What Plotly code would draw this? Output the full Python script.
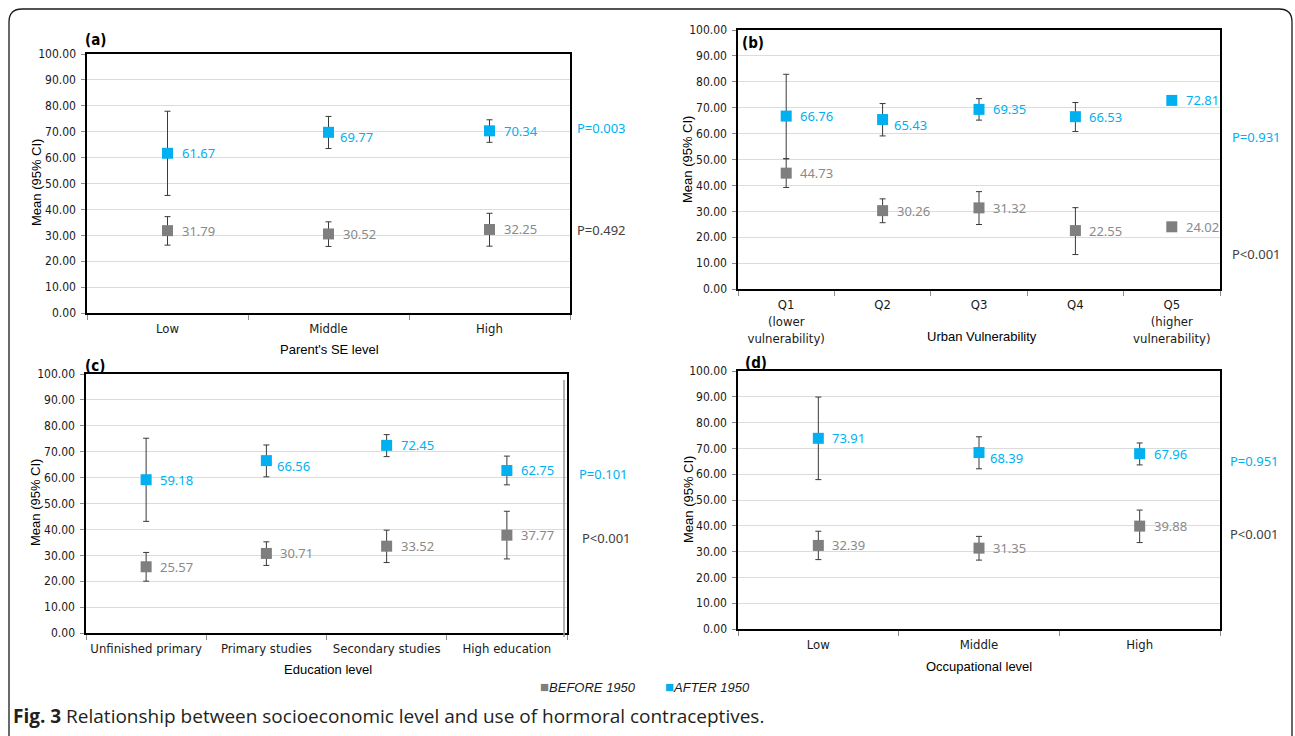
import plotly.graph_objects as go

W, H = 1295, 736

# ---------------- data ----------------
cats_a = ["Low", "Middle", "High"]
before_a = [31.79, 30.52, 32.25]
before_a_lo = [26.2, 25.7, 25.8]
before_a_hi = [37.2, 35.2, 38.5]
after_a = [61.67, 69.77, 70.34]
after_a_lo = [45.4, 63.5, 65.9]
after_a_hi = [77.9, 75.9, 74.6]

cats_b = ["Q1<br>(lower<br>vulnerability)", "Q2", "Q3", "Q4", "Q5<br>(higher<br>vulnerability)"]
before_b = [44.73, 30.26, 31.32, 22.55, 24.02]
before_b_lo = [39.2, 25.6, 24.9, 13.3, None]
before_b_hi = [50.3, 34.8, 37.6, 31.4, None]
after_b = [66.76, 65.43, 69.35, 66.53, 72.81]
after_b_lo = [50.3, 59.1, 65.2, 60.8, None]
after_b_hi = [82.9, 71.6, 73.5, 72.0, None]

cats_c = ["Unfinished primary", "Primary studies", "Secondary studies", "High education"]
before_c = [25.57, 30.71, 33.52, 37.77]
before_c_lo = [20.0, 26.1, 27.2, 28.6]
before_c_hi = [31.1, 35.2, 39.7, 47.0]
after_c = [59.18, 66.56, 72.45, 62.75]
after_c_lo = [43.1, 60.3, 68.1, 57.2]
after_c_hi = [75.2, 72.6, 76.6, 68.3]

cats_d = ["Low", "Middle", "High"]
before_d = [32.39, 31.35, 39.88]
before_d_lo = [26.9, 26.7, 33.5]
before_d_hi = [37.9, 35.9, 46.1]
after_d = [73.91, 68.39, 67.96]
after_d_lo = [57.9, 62.1, 63.6]
after_d_hi = [89.9, 74.5, 72.1]

p_after = ["P=0.003", "P=0.931", "P=0.101", "P=0.951"]
p_before = ["P=0.492", "P<0.001", "P<0.001", "P<0.001"]
panel_letters = ["(a)", "(b)", "(c)", "(d)"]
x_titles = ["Parent's SE level", "Urban Vulnerability", "Education level", "Occupational level"]
y_title = "Mean (95% CI)"
series_names = ["BEFORE 1950", "AFTER 1950"]
caption_bold = "Fig. 3"
caption_text = "Relationship between socioeconomic level and use of hormoral contraceptives."

# ---------------- styles ----------------
BLUE = "#00B0F0"
GRAY = "#7F7F7F"
ERR = "#3a3a3a"
FONT_TICK = "DejaVu Sans Condensed, DejaVu Sans, sans-serif"
FONT_LBL = "Noto Sans, sans-serif"
FONT_AX = "Liberation Sans, Arial, sans-serif"


def fx(px):
    return px / W


def fy(py):
    return 1 - py / H


# plot-area pixel boxes: (left, right, top, bottom)
boxes = [(87, 570, 54, 313), (738, 1220, 30, 289), (86, 567, 374, 633), (738, 1220, 371, 629)]
# label shift of the "after" labels (index -> (xshift, yshift))
after_shift = [{1: (9, -5)}, {1: (9, -5)}, {1: (9, -5)}, {1: (9, -5)}]

panels = [
    (cats_a, before_a, before_a_lo, before_a_hi, after_a, after_a_lo, after_a_hi),
    (cats_b, before_b, before_b_lo, before_b_hi, after_b, after_b_lo, after_b_hi),
    (cats_c, before_c, before_c_lo, before_c_hi, after_c, after_c_lo, after_c_hi),
    (cats_d, before_d, before_d_lo, before_d_hi, after_d, after_d_lo, after_d_hi),
]

# text placement (pixels)
p_after_pos = [(575, 128), (1230, 137), (577, 474), (1228, 461)]
p_before_pos = [(575, 230), (1230, 254), (580, 538), (1228, 534)]
letter_pos = [(83, 40), (740, 43), (83, 366), (743, 363)]
ytitle_pos = [(37, 183), (688, 160), (35, 503), (688, 500)]
xtitle_pos = [(329, 349), (982, 336), (328, 669), (979, 666)]


def err(m, lo, hi):
    plus = [(h - v) if h is not None else None for v, h in zip(m, hi)]
    minus = [(v - l) if l is not None else None for v, l in zip(m, lo)]
    return plus, minus


fig = go.Figure()
annotations = []
layout_axes = {}

for i, (cats, b, blo, bhi, a, alo, ahi) in enumerate(panels):
    n = "" if i == 0 else str(i + 1)
    xa, ya = "x" + n, "y" + n
    for vals, lo, hi, col in [(b, blo, bhi, GRAY), (a, alo, ahi, BLUE)]:
        plus, minus = err(vals, lo, hi)
        fig.add_trace(go.Scatter(
            x=cats, y=vals, mode="markers", xaxis=xa, yaxis=ya,
            marker=dict(symbol="square", size=11, color=col),
            error_y=dict(type="data", symmetric=False, array=plus, arrayminus=minus,
                         color=ERR, thickness=1, width=3),
            showlegend=False, hoverinfo="skip",
        ))
    # data labels
    for j, (c, v) in enumerate(zip(cats, b)):
        annotations.append(dict(x=c, y=v, xref=xa, yref=ya, text=f"{v:.2f}", showarrow=False,
                                xanchor="left", yanchor="middle", xshift=12,
                                font=dict(family=FONT_LBL, size=13, color="#8a8a8a")))
    for j, (c, v) in enumerate(zip(cats, a)):
        xs, ys = after_shift[i].get(j, (12, 0))
        annotations.append(dict(x=c, y=v, xref=xa, yref=ya, text=f"{v:.2f}", showarrow=False,
                                xanchor="left", yanchor="middle", xshift=xs, yshift=ys,
                                font=dict(family=FONT_LBL, size=13, color=BLUE)))
    l, r, t, btm = boxes[i]
    layout_axes["xaxis" + n] = dict(
        domain=[fx(l), fx(r)], anchor=ya, type="category", tickson="boundaries",
        range=[-0.5, len(cats) - 0.5], tickangle=0,
        ticks="outside", ticklen=5, tickcolor="#8c8c8c", tickwidth=1, ticklabelstandoff=3,
        showline=True, linecolor="#000000", linewidth=1.6, mirror=True,
        showgrid=False, zeroline=False, fixedrange=True, automargin=False,
        tickfont=dict(family=FONT_TICK, size=13, color="#1a1a1a"),
    )
    layout_axes["yaxis" + n] = dict(
        domain=[fy(btm), fy(t)], anchor=xa, range=[0, 100], dtick=10, tickformat=".2f",
        ticks="outside", ticklen=4, tickcolor="#8c8c8c", ticklabelstandoff=3,
        showline=True, linecolor="#000000", linewidth=1.6, mirror=True,
        showgrid=True, gridcolor="#DCDCDC", gridwidth=1, zeroline=False, fixedrange=True,
        automargin=False,
        tickfont=dict(family=FONT_TICK, size=12, color="#1a1a1a"),
    )
    # p-values
    px_, py_ = p_after_pos[i]
    annotations.append(dict(x=fx(px_), y=fy(py_), xref="paper", yref="paper", text=p_after[i],
                            showarrow=False, xanchor="left", yanchor="middle",
                            font=dict(family=FONT_LBL, size=13, color=BLUE)))
    px_, py_ = p_before_pos[i]
    annotations.append(dict(x=fx(px_), y=fy(py_), xref="paper", yref="paper", text=p_before[i],
                            showarrow=False, xanchor="left", yanchor="middle",
                            font=dict(family=FONT_LBL, size=13, color="#404040")))
    # panel letter
    px_, py_ = letter_pos[i]
    annotations.append(dict(x=fx(px_), y=fy(py_), xref="paper", yref="paper",
                            text=f"<b>{panel_letters[i]}</b>", showarrow=False,
                            xanchor="left", yanchor="middle",
                            font=dict(family=FONT_TICK, size=15, color="#000000")))
    # axis titles
    px_, py_ = ytitle_pos[i]
    annotations.append(dict(x=fx(px_), y=fy(py_), xref="paper", yref="paper", text=y_title,
                            textangle=-90, showarrow=False, xanchor="center", yanchor="middle",
                            font=dict(family=FONT_AX, size=13, color="#000000")))
    px_, py_ = xtitle_pos[i]
    annotations.append(dict(x=fx(px_), y=fy(py_), xref="paper", yref="paper", text=x_titles[i],
                            showarrow=False, xanchor="center", yanchor="middle",
                            font=dict(family=FONT_AX, size=13, color="#000000")))

# legend (text)
for k, (pxl, col) in enumerate([(538, GRAY), (663, BLUE)]):
    annotations.append(dict(x=fx(pxl), y=fy(686), xref="paper", yref="paper",
                            text=(f'<span style="color:{col};font-size:15px">■</span>'
                                  f'<i>{series_names[k]}</i>'),
                            showarrow=False, xanchor="left", yanchor="middle",
                            font=dict(family=FONT_AX, size=13, color="#1a1a1a")))
# caption
annotations.append(dict(x=fx(11), y=fy(716), xref="paper", yref="paper",
                        text=f"<b>{caption_bold}</b> {caption_text}",
                        showarrow=False, xanchor="left", yanchor="middle",
                        font=dict(family="Open Sans, sans-serif", size=19, color="#231F20")))

# rounded border
L, R, T, B, rad = 9, 1292, 9, 760, 13
path = (f"M {fx(L + rad)} {fy(T)} L {fx(R - rad)} {fy(T)} "
        f"Q {fx(R)} {fy(T)} {fx(R)} {fy(T + rad)} L {fx(R)} {fy(B - rad)} "
        f"Q {fx(R)} {fy(B)} {fx(R - rad)} {fy(B)} L {fx(L + rad)} {fy(B)} "
        f"Q {fx(L)} {fy(B)} {fx(L)} {fy(B - rad)} L {fx(L)} {fy(T + rad)} "
        f"Q {fx(L)} {fy(T)} {fx(L + rad)} {fy(T)} Z")
shapes = [
    dict(type="path", xref="paper", yref="paper", path=path,
         line=dict(color="#1a1a1a", width=1.3), fillcolor="rgba(0,0,0,0)", layer="above"),
    dict(type="line", xref="paper", yref="paper", x0=fx(564), x1=fx(564), y0=fy(380), y1=fy(637),
         line=dict(color="#9a9a9a", width=1.5)),
]

fig.update_layout(
    width=W, height=H, margin=dict(l=0, r=0, t=0, b=0, autoexpand=False),
    paper_bgcolor="white", plot_bgcolor="white",
    annotations=annotations, shapes=shapes, showlegend=False,
    **layout_axes,
)

fig.write_html("out.html", config={"displayModeBar": False, "staticPlot": True},
               post_script="document.body.style.margin='0';document.body.style.overflow='hidden';")
